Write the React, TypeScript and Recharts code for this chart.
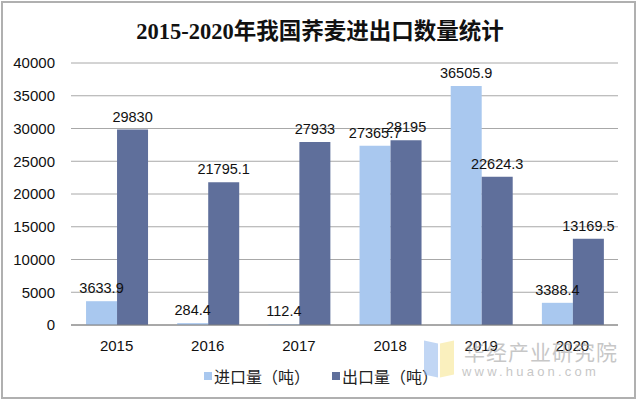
import React from 'react';
import { BarChart, Bar, XAxis, YAxis, CartesianGrid, LabelList } from 'recharts';

const years = ['2015', '2016', '2017', '2018', '2019', '2020'];
const importQty = [3633.9, 284.4, 112.4, 27365.7, 36505.9, 3388.4];
const exportQty = [29830, 21795.1, 27933, 28195, 22624.3, 13169.5];
const yTicks = [0, 5000, 10000, 15000, 20000, 25000, 30000, 35000, 40000];
const boundaryTicks = [0, 1, 2, 3, 4, 5, 6];

const IMPORT_COLOR = '#a9c8ef';
const EXPORT_COLOR = '#5f6f9b';
const FONT = '"Liberation Sans", Arial, "Noto Sans CJK SC", sans-serif';

const data = years.map((y, i) => ({ year: y, imp: importQty[i], exp: exportQty[i], idx: i + 0.5 }));

const fmt = (v: any) => String(v);

const LegendBox = () => (
  <div style={{ position: 'absolute', left: 204, top: 364, display: 'flex', alignItems: 'center', fontFamily: '"Noto Sans CJK SC", sans-serif', fontSize: 16, color: '#222' }}>
    <span style={{ display: 'inline-block', width: 8, height: 8, background: IMPORT_COLOR, marginRight: 2 }} />
    <span>进口量（吨）</span>
    <span style={{ display: 'inline-block', width: 8, height: 8, background: EXPORT_COLOR, marginLeft: 22, marginRight: 2 }} />
    <span>出口量（吨）</span>
  </div>
);

const Watermark = () => (
  <div style={{ position: 'absolute', left: 424, top: 336, pointerEvents: 'none', opacity: 0.55 }}>
    <div style={{ position: 'absolute', left: 0, top: 6, width: 14, height: 34, background: '#8fb6ec', transform: 'skewY(12deg)' }} />
    <div style={{ position: 'absolute', left: 16, top: 6, width: 14, height: 34, background: '#f6e58a', transform: 'skewY(-12deg)' }} />
    <div style={{ position: 'absolute', left: 40, top: 0, fontFamily: '"Noto Sans CJK SC", sans-serif', fontSize: 21, color: '#9a9a9a', whiteSpace: 'nowrap', letterSpacing: 1 }}>华经产业研究院</div>
    <div style={{ position: 'absolute', left: 38, top: 28, fontFamily: FONT, fontSize: 13, color: '#9a9a9a', whiteSpace: 'nowrap', letterSpacing: 3.2 }}>www.huaon.com</div>
  </div>
);

export default function App() {
  return (
    <div style={{ position: 'fixed', left: 0, top: 0, width: 640, height: 403, background: '#fff' }}>
      <div style={{ position: 'absolute', left: 1, top: 1, width: 635, height: 398, border: '2px solid #b0b0b0', boxSizing: 'border-box' }} />
      <div style={{ position: 'absolute', left: 0, top: 13, width: 640, textAlign: 'center', fontFamily: '"Liberation Serif", "Noto Sans CJK SC", serif', fontWeight: 'bold', fontSize: 22.5, color: '#111' }}>
        2015-2020年我国荞麦进出口数量统计
      </div>
      <BarChart
        width={640}
        height={403}
        data={data}
        margin={{ top: 63, right: 22, bottom: 48, left: 0 }}
        barCategoryGap="16.5%"
        barGap={0}
        style={{ position: 'absolute', left: 0, top: 0 }}
      >
        <CartesianGrid vertical={false} stroke="#a8a8a8" />
        <XAxis
          xAxisId="cat"
          dataKey="year"
          tickLine={false}
          axisLine={{ stroke: '#7f7f7f' }}
          tick={{ fill: '#111', fontSize: 15, fontFamily: FONT }}
          tickMargin={9}
          height={30}
        />
        <XAxis
          xAxisId="edge"
          type="number"
          dataKey="idx"
          domain={[0, 6]}
          ticks={boundaryTicks}
          tick={false}
          tickLine={{ stroke: '#7f7f7f' }}
          tickSize={4}
          axisLine={false}
          height={0}
        />
        <YAxis
          width={71}
          domain={[0, 40000]}
          ticks={yTicks}
          axisLine={false}
          tickLine={false}
          tickMargin={10}
          tick={{ fill: '#111', fontSize: 15, fontFamily: FONT }}
        />
        <Bar xAxisId="cat" dataKey="imp" fill={IMPORT_COLOR} isAnimationActive={false}>
          <LabelList dataKey="imp" position="top" offset={8} formatter={fmt} style={{ fill: '#111', fontSize: 14.5, fontFamily: FONT }} />
        </Bar>
        <Bar xAxisId="cat" dataKey="exp" fill={EXPORT_COLOR} isAnimationActive={false}>
          <LabelList dataKey="exp" position="top" offset={8} formatter={fmt} style={{ fill: '#111', fontSize: 14.5, fontFamily: FONT }} />
        </Bar>
      </BarChart>
      <LegendBox />
      <Watermark />
    </div>
  );
}
